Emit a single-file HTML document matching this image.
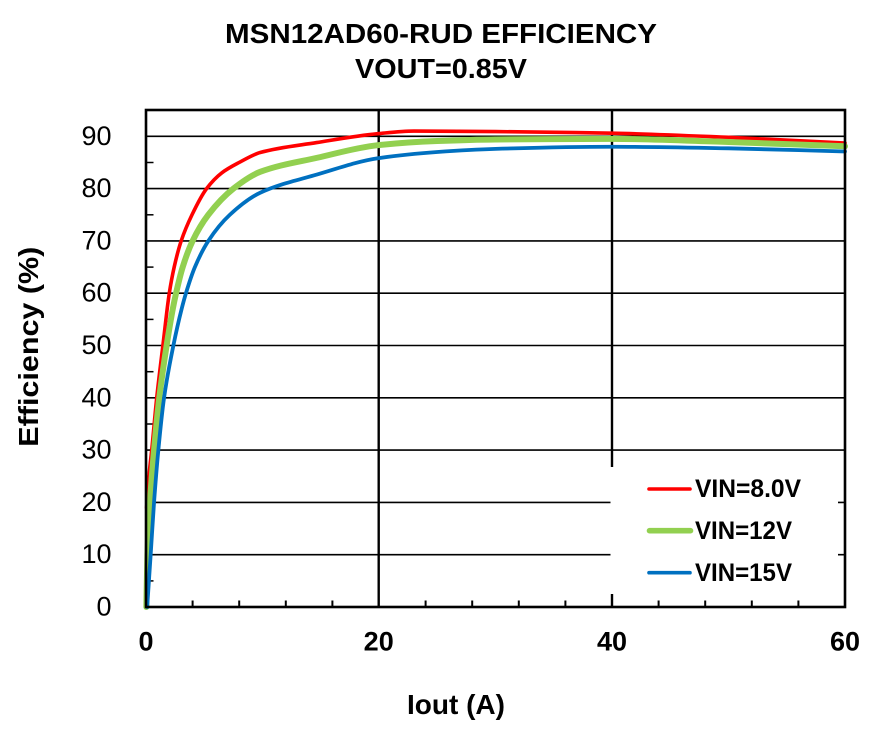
<!DOCTYPE html>
<html>
<head>
<meta charset="utf-8">
<style>
  html, body { margin: 0; padding: 0; background: #ffffff; }
  svg { display: block; }
  text { font-family: "Liberation Sans", Arial, sans-serif; fill: #000; }
</style>
</head>
<body>
<svg id="chart" width="881" height="744" viewBox="0 0 881 744" xmlns="http://www.w3.org/2000/svg">
  <rect x="0" y="0" width="881" height="744" fill="#fff"/>

  <!-- Title -->
  <text x="441" y="43" font-size="28" font-weight="bold" text-anchor="middle" textLength="432" lengthAdjust="spacingAndGlyphs">MSN12AD60-RUD EFFICIENCY</text>
  <text x="441" y="78" font-size="28" font-weight="bold" text-anchor="middle" textLength="172" lengthAdjust="spacingAndGlyphs">VOUT=0.85V</text>

  <!-- Horizontal gridlines -->
  <g stroke="#000" stroke-width="1.6">
    <line x1="146" y1="554.7" x2="845" y2="554.7"/>
    <line x1="146" y1="502.4" x2="845" y2="502.4"/>
    <line x1="146" y1="450.1" x2="845" y2="450.1"/>
    <line x1="146" y1="397.8" x2="845" y2="397.8"/>
    <line x1="146" y1="345.5" x2="845" y2="345.5"/>
    <line x1="146" y1="293.2" x2="845" y2="293.2"/>
    <line x1="146" y1="240.9" x2="845" y2="240.9"/>
    <line x1="146" y1="188.6" x2="845" y2="188.6"/>
    <line x1="146" y1="136.3" x2="845" y2="136.3"/>
  </g>
  <!-- Vertical gridlines -->
  <g stroke="#000" stroke-width="2.4">
    <line x1="378.7" y1="110" x2="378.7" y2="607"/>
    <line x1="612" y1="110" x2="612" y2="607"/>
  </g>

  <!-- Left minor ticks -->
  <g stroke="#000" stroke-width="1.5">
    <line x1="146" y1="580.9" x2="153.5" y2="580.9"/>
    <line x1="146" y1="528.6" x2="153.5" y2="528.6"/>
    <line x1="146" y1="476.3" x2="153.5" y2="476.3"/>
    <line x1="146" y1="424.0" x2="153.5" y2="424.0"/>
    <line x1="146" y1="371.7" x2="153.5" y2="371.7"/>
    <line x1="146" y1="319.4" x2="153.5" y2="319.4"/>
    <line x1="146" y1="267.1" x2="153.5" y2="267.1"/>
    <line x1="146" y1="214.8" x2="153.5" y2="214.8"/>
    <line x1="146" y1="162.5" x2="153.5" y2="162.5"/>
  </g>
  <!-- Bottom minor ticks -->
  <g stroke="#000" stroke-width="2">
    <line x1="192.6" y1="600.5" x2="192.6" y2="607"/>
    <line x1="239.2" y1="600.5" x2="239.2" y2="607"/>
    <line x1="285.8" y1="600.5" x2="285.8" y2="607"/>
    <line x1="332.4" y1="600.5" x2="332.4" y2="607"/>
    <line x1="425.6" y1="600.5" x2="425.6" y2="607"/>
    <line x1="472.2" y1="600.5" x2="472.2" y2="607"/>
    <line x1="518.8" y1="600.5" x2="518.8" y2="607"/>
    <line x1="565.4" y1="600.5" x2="565.4" y2="607"/>
    <line x1="658.6" y1="600.5" x2="658.6" y2="607"/>
    <line x1="705.2" y1="600.5" x2="705.2" y2="607"/>
    <line x1="751.8" y1="600.5" x2="751.8" y2="607"/>
    <line x1="798.4" y1="600.5" x2="798.4" y2="607"/>
  </g>

  <!-- Series (fallback polylines; replaced by smooth paths via script) -->
  <g id="fallback" transform="translate(146,607) scale(11.65,-5.23)" fill="none" stroke-linejoin="round" stroke-linecap="round">
    <polyline vector-effect="non-scaling-stroke" stroke="#FF0000" stroke-width="3.6"
      points="0.05,19 0.25,25 0.49,30 0.92,40 1.45,50 2.0,60 2.42,65 3.02,70 3.95,75 5.2,80 6.5,83 8.0,85 9.8,86.9 14.65,88.8 19.9,90.5 23,91.0 30,90.9 40,90.6 50,89.8 60,88.7"/>
    <polyline vector-effect="non-scaling-stroke" stroke="#92D050" stroke-width="6"
      points="0.03,0 0.12,10 0.34,20 0.69,30 1.14,40 1.77,50 2.3,57 2.58,60 3.15,65 4.0,70 5.35,75 7.5,80 9.8,83.2 14.7,85.9 19.9,88.3 25,89.1 30,89.4 40,89.5 50,88.9 60,88.1"/>
    <polyline vector-effect="non-scaling-stroke" stroke="#0070C0" stroke-width="3.8"
      points="0.1,0 0.4,10 0.69,20 1.06,30 1.55,40 2.35,50 3.06,57 3.43,60 4.2,65 5.35,70 7.2,75 9.8,79.2 14.7,82.7 19.9,85.8 25,87.0 30,87.6 40,88.0 50,87.7 60,87.1"/>
  </g>
  <g id="smooth" fill="none" stroke-linejoin="round" stroke-linecap="round">
    <path id="sr" stroke="#FF0000" stroke-width="3.6"/>
    <path id="sg" stroke="#92D050" stroke-width="6"/>
    <path id="sb" stroke="#0070C0" stroke-width="3.8"/>
  </g>

  <!-- Legend box -->
  <rect x="610.5" y="467" width="227.5" height="127" fill="#fff"/>
  <line x1="649" y1="489" x2="690" y2="489" stroke="#FF0000" stroke-width="3.6" stroke-linecap="round"/>
  <line x1="649.5" y1="530.7" x2="690.5" y2="530.7" stroke="#92D050" stroke-width="5.6" stroke-linecap="round"/>
  <line x1="649" y1="572.7" x2="690" y2="572.7" stroke="#0070C0" stroke-width="3.6" stroke-linecap="round"/>
  <text x="695" y="497" font-size="25" font-weight="bold" textLength="106" lengthAdjust="spacingAndGlyphs">VIN=8.0V</text>
  <text x="695" y="539" font-size="25" font-weight="bold" textLength="97" lengthAdjust="spacingAndGlyphs">VIN=12V</text>
  <text x="695" y="581" font-size="25" font-weight="bold" textLength="97" lengthAdjust="spacingAndGlyphs">VIN=15V</text>

  <!-- Plot border -->
  <rect x="146" y="110" width="699" height="497" fill="none" stroke="#000" stroke-width="2.6"/>

  <!-- Y tick labels -->
  <g font-size="27" text-anchor="end">
    <text x="111.5" y="615.5">0</text>
    <text x="111.5" y="563.2">10</text>
    <text x="111.5" y="510.9">20</text>
    <text x="111.5" y="458.6">30</text>
    <text x="111.5" y="406.3">40</text>
    <text x="111.5" y="354.0">50</text>
    <text x="111.5" y="301.7">60</text>
    <text x="111.5" y="249.4">70</text>
    <text x="111.5" y="197.1">80</text>
    <text x="111.5" y="144.8">90</text>
  </g>

  <!-- X tick labels -->
  <g font-size="27" font-weight="bold" text-anchor="middle">
    <text x="146" y="650.5">0</text>
    <text x="378.7" y="650.5">20</text>
    <text x="612" y="650.5">40</text>
    <text x="845" y="650.5">60</text>
  </g>

  <!-- Axis titles -->
  <text x="456" y="714" font-size="28" font-weight="bold" text-anchor="middle" textLength="98" lengthAdjust="spacingAndGlyphs">Iout (A)</text>
  <text transform="translate(38,346.7) rotate(-90)" x="0" y="0" font-size="28" font-weight="bold" text-anchor="middle" textLength="200" lengthAdjust="spacingAndGlyphs">Efficiency (%)</text>
</svg>
<script>
(function(){
  try {
    var polys = document.querySelectorAll('#fallback polyline');
    var ids = ['sr','sg','sb'];
    for (var k = 0; k < polys.length; k++) {
      var raw = polys[k].getAttribute('points').trim().split(/\s+/);
      var pts = raw.map(function(s){
        var a = s.split(',');
        return [146 + 11.65*parseFloat(a[0]), 607 - 5.23*parseFloat(a[1])];
      });
      var n = pts.length, h = [], dl = [], m = [];
      for (var i = 0; i < n-1; i++) {
        h.push(pts[i+1][0]-pts[i][0]);
        dl.push((pts[i+1][1]-pts[i][1])/h[i]);
      }
      m[0] = dl[0];
      m[n-1] = dl[n-2];
      for (var i = 1; i < n-1; i++) {
        var d0 = dl[i-1], d1 = dl[i];
        if (d0*d1 <= 0) { m[i] = 0; }
        else {
          var w1 = 2*h[i] + h[i-1], w2 = h[i] + 2*h[i-1];
          m[i] = (w1 + w2) / (w1/d0 + w2/d1);
        }
      }
      var f = function(v){ return v.toFixed(2); };
      var d = 'M' + f(pts[0][0]) + ',' + f(pts[0][1]);
      for (var i = 0; i < n-1; i++) {
        var x0 = pts[i][0], y0 = pts[i][1], x1 = pts[i+1][0], y1 = pts[i+1][1], t = h[i]/3;
        d += ' C' + f(x0+t) + ',' + f(y0+m[i]*t) + ' ' + f(x1-t) + ',' + f(y1-m[i+1]*t) + ' ' + f(x1) + ',' + f(y1);
      }
      document.getElementById(ids[k]).setAttribute('d', d);
    }
    var fb = document.getElementById('fallback');
    fb.parentNode.removeChild(fb);
  } catch (e) {}
})();
</script>
</body>
</html>
